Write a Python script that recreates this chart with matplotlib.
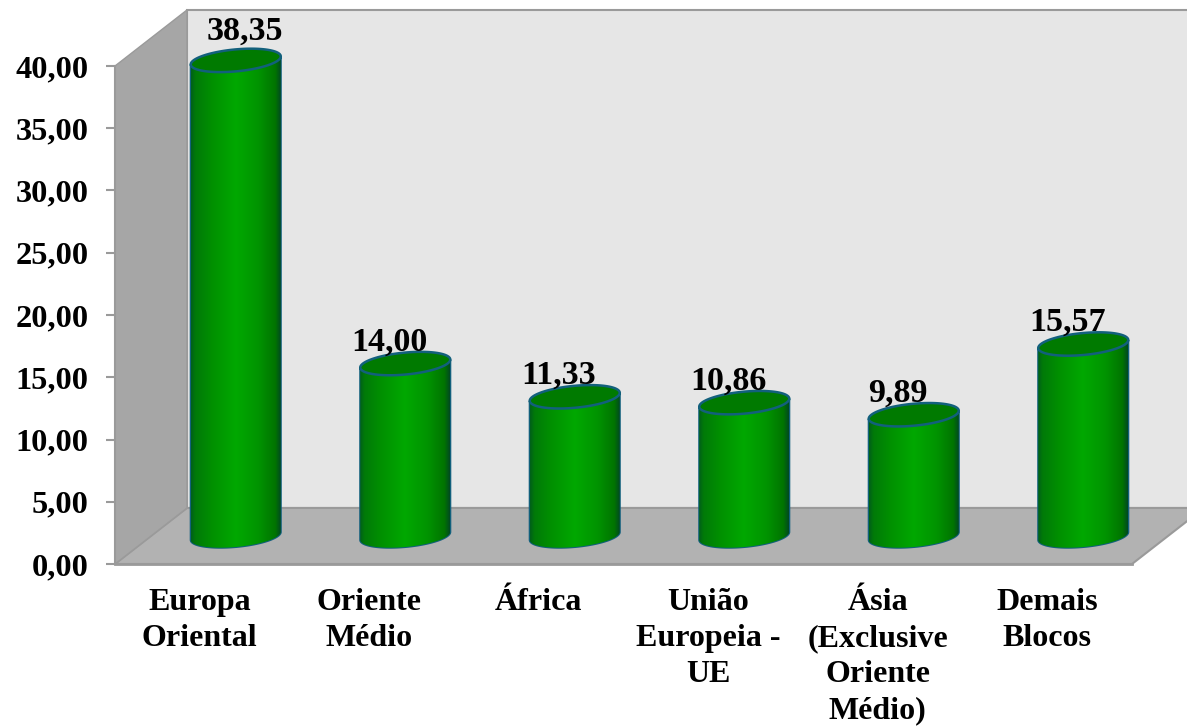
import numpy as np
import matplotlib
matplotlib.use('Agg')
import matplotlib.pyplot as plt
from matplotlib.colors import LinearSegmentedColormap
from matplotlib.patches import Polygon

categories = ['Europa\nOriental', 'Oriente\nMédio', 'África', 'União\nEuropeia -\nUE',
              'Ásia\n(Exclusive\nOriente\nMédio)', 'Demais\nBlocos']
values = [38.35, 14.00, 11.33, 10.86, 9.89, 15.57]
value_labels = ['38,35', '14,00', '11,33', '10,86', '9,89', '15,57']
y_ticks = [0, 5, 10, 15, 20, 25, 30, 35, 40]
y_tick_labels = ['0,00', '5,00', '10,00', '15,00', '20,00', '25,00', '30,00', '35,00', '40,00']

plt.rcParams['font.family'] = ['Liberation Serif', 'DejaVu Serif']
plt.rcParams['font.weight'] = 'bold'

W, H = 1187, 726
fig = plt.figure(figsize=(W / 100, H / 100), dpi=100, facecolor='white')
ax = fig.add_axes([115 / W, (H - 564) / H, 1017 / W, 498 / H])
ax.set_xlim(0, 6)
ax.set_ylim(0, 40)

# depth of the fake 3d box, in data units
dx = 72 / 169.5
dy = 4.5
wall_edge = '#9a9a9a'

ax.add_patch(Polygon([(dx, dy), (6 + dx, dy), (6 + dx, 40 + dy), (dx, 40 + dy)],
                     fc='#e6e6e6', ec=wall_edge, lw=1.5, clip_on=False, zorder=1))
ax.add_patch(Polygon([(0, 0), (6, 0), (6 + dx, dy), (dx, dy)],
                     fc='#b2b2b2', ec=wall_edge, lw=1.5, clip_on=False, zorder=2))
ax.add_patch(Polygon([(0, 0), (dx, dy), (dx, 40 + dy), (0, 40)],
                     fc='#a6a6a6', ec=wall_edge, lw=1, clip_on=False, zorder=2))

cmap = LinearSegmentedColormap.from_list('cyl', [
    (0.0, '#00601a'), (0.05, '#007a08'), (0.25, '#009200'), (0.5, '#00a800'),
    (0.75, '#009400'), (0.94, '#007400'), (1.0, '#004a20')])
grad = np.linspace(0, 1, 256).reshape(1, -1)

half_w = 45 / 169.5
half_h = 11 / 12.45
tilt = 4 / 12.45
t = np.linspace(0, 2 * np.pi, 200)
low = np.linspace(np.pi, 2 * np.pi, 100)
outline = '#12607c'

for i, v in enumerate(values):
    cx = i + 0.5 + dx / 2
    base = dy / 2
    top = base + v - 0.15

    # body: bottom arc + straight sides
    bx = cx + half_w * np.cos(low)
    by = base + half_h * np.sin(low) + tilt * np.cos(low)
    tx = cx + half_w * np.cos(low[::-1])
    ty = top + half_h * np.sin(low[::-1]) + tilt * np.cos(low[::-1])
    body = Polygon(np.column_stack([np.r_[bx, tx], np.r_[by, ty]]), fc='none',
                   ec=outline, lw=1.5, zorder=3, clip_on=False)
    ax.add_patch(body)
    im = ax.imshow(grad, cmap=cmap, aspect='auto', zorder=3,
                   extent=(cx - half_w, cx + half_w, base - 2, top + 2))
    im.set_clip_path(body)
    im.set_clip_box(fig.bbox)

    # top cap
    ex = cx + half_w * np.cos(t)
    ey = top + half_h * np.sin(t) + tilt * np.cos(t)
    ax.add_patch(Polygon(np.column_stack([ex, ey]), fc='#007a00', ec=outline, lw=1.8,
                         zorder=4, clip_on=False))

    if i == 0:
        ax.annotate(value_labels[i], (cx, top), xytext=(9, 21), textcoords='offset pixels',
                    ha='center', va='baseline', fontsize=24.5, fontweight='bold', zorder=5,
                    annotation_clip=False)
    else:
        ax.annotate(value_labels[i], (cx, top), xytext=(-16, 13), textcoords='offset pixels',
                    ha='center', va='baseline', fontsize=24.5, fontweight='bold', zorder=5,
                    annotation_clip=False)

ax.set_xlim(0, 6)
ax.set_ylim(0, 40)

ax.set_yticks(y_ticks)
ax.set_yticklabels(y_tick_labels, fontsize=23.3, fontweight='bold')
ax.set_xticks(np.arange(len(categories)) + 0.5)
ax.set_xticklabels(categories, fontsize=23, fontweight='bold', linespacing=1.33)
ax.tick_params(axis='y', length=6.5, width=1.5, color=wall_edge, pad=12.5)
ax.tick_params(axis='x', length=0, pad=17)

ax.spines['top'].set_visible(False)
ax.spines['right'].set_visible(False)
ax.spines['left'].set_color(wall_edge)
ax.spines['bottom'].set_color(wall_edge)
ax.spines['left'].set_linewidth(1.5)
ax.spines['bottom'].set_linewidth(2)
for s in ax.spines.values():
    s.set_zorder(2.5)
ax.patch.set_visible(False)

fig.savefig('out.png', dpi=100)
